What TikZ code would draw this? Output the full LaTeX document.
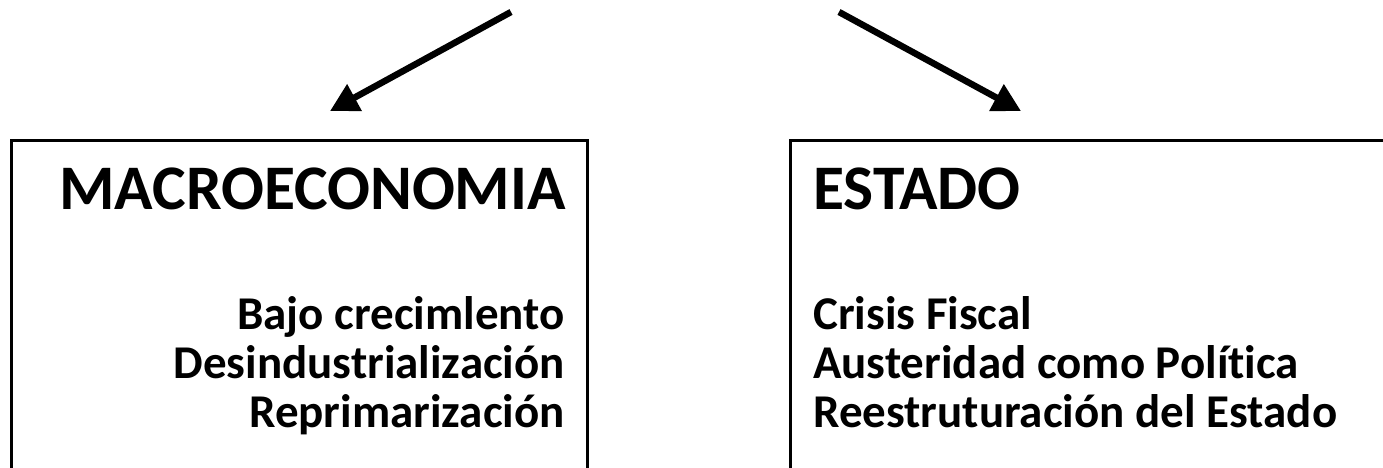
\documentclass[tikz,border=0pt]{standalone}
\usepackage{fontspec}
\setmainfont{Carlito}[Ligatures=NoCommon]
\usetikzlibrary{arrows.meta}
\tikzset{
  boxframe/.style={draw=black, line width=3pt},
  bigarrow/.style={line width=6.5pt, -{Triangle[length=28pt,width=29pt]}},
  headtext/.style={inner sep=0pt, font=\fontsize{63.5}{74}\selectfont\bfseries},
  itemtext/.style={inner sep=0pt, font=\fontsize{47}{56}\selectfont\bfseries},
}
\begin{document}
\begin{tikzpicture}[x=1pt,y=-1pt]
\useasboundingbox (0,0) rectangle (1383,468);
\clip (0,0) rectangle (1383,468);
\fill[white] (0,0) rectangle (1383,468);
% boxes
\draw[boxframe] (11,140) rectangle (587,500);
\draw[boxframe] (790,140) rectangle (1400,500);
\coordinate (boxL) at (330,111);
\coordinate (boxR) at (1021,111);
\coordinate (startL) at (511,12);
\coordinate (startR) at (839,12);
\draw[bigarrow] (startL) -- (boxL);
\draw[bigarrow] (startR) -- (boxR);
% texts
\node[headtext, anchor=base west] (macro) at (59,209) {MACROECONOMIA};
\node[itemtext, anchor=base east] (m1) at (565,329) {Bajo crecimlento};
\node[itemtext, anchor=base east] (m2) at (565,378) {Desindustrialización};
\node[itemtext, anchor=base east] (m3) at (565,427) {Reprimarización};
\node[headtext, anchor=base west] (estado) at (813,209) {ESTADO};
\node[itemtext, anchor=base west] (e1) at (813,329) {Crisis Fiscal};
\node[itemtext, anchor=base west] (e2) at (813,378) {Austeridad como Política};
\node[itemtext, anchor=base west] (e3) at (813,427) {Reestruturación del Estado};
\end{tikzpicture}
\end{document}
